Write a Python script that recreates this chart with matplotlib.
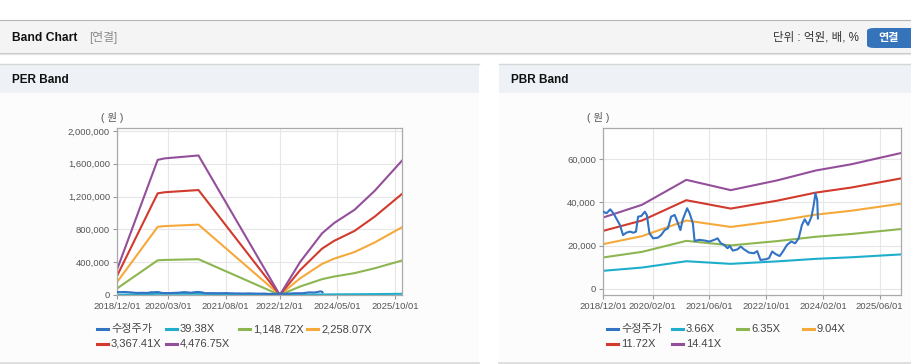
import numpy as np
import pandas as pd
import matplotlib
matplotlib.use("Agg")
import matplotlib.pyplot as plt
from matplotlib.patches import Rectangle, FancyBboxPatch
from matplotlib.lines import Line2D
from matplotlib.ticker import FuncFormatter

plt.rcParams['font.family'] = ['Liberation Sans', 'Noto Sans CJK KR']

W, H = 912, 364

# adjusted price (won)
price_dates = ['2018-12-01', '2019-01-01', '2019-02-01', '2019-02-28', '2019-03-25', '2019-04-25',
               '2019-05-22', '2019-06-19', '2019-07-19', '2019-08-19', '2019-09-10', '2019-09-28',
               '2019-10-25', '2019-11-25', '2019-12-12', '2020-01-04', '2020-02-04', '2020-03-16',
               '2020-04-13', '2020-05-13', '2020-06-10', '2020-07-07', '2020-08-07', '2020-08-25',
               '2020-09-25', '2020-10-16', '2020-11-22', '2020-12-13', '2021-01-10', '2021-01-25',
               '2021-03-07', '2021-04-19', '2021-06-01', '2021-07-13', '2021-08-10', '2021-09-07',
               '2021-10-07', '2021-11-04', '2021-11-22', '2021-12-19', '2022-01-28', '2022-02-25',
               '2022-03-25', '2022-05-07', '2022-06-19', '2022-07-16', '2022-08-13', '2022-09-25',
               '2022-10-25', '2022-11-22', '2022-12-22', '2023-01-25', '2023-02-22', '2023-03-28',
               '2023-05-04', '2023-06-07', '2023-07-07', '2023-08-04', '2023-08-28', '2023-09-25',
               '2023-10-25', '2023-11-13', '2023-11-28', '2023-12-13', '2023-12-19']
price = [35700, 35000, 36800, 35000, 32600, 29600, 24900, 26000, 26500, 26000, 26500, 33400,
         33700, 35700, 34200, 25700, 23400, 23700, 24900, 27200, 28000, 33400, 34200, 31800,
         27200, 32200, 37300, 35000, 30400, 22200, 22700, 22400, 21900, 22700, 23400, 21100,
         20300, 18800, 19900, 17700, 18300, 19600, 18300, 16800, 16500, 17500, 13400, 13700,
         14200, 17300, 16100, 15200, 17300, 20300, 21900, 21100, 23400, 29600, 32200, 29600,
         33400, 38800, 44200, 41100, 32600]

# PER band base (EPS)
eps_dates = ['2018-12-01', '2019-12-01', '2020-02-01', '2020-12-01', '2021-12-01', '2022-12-01',
             '2023-06-01', '2023-12-15', '2024-04-01', '2024-10-01', '2025-04-01', '2025-12-01']
eps = [69, 368, 372, 380, 190, 0, 90, 168, 196, 232, 284, 366]
per_mult = [39.38, 1148.72, 2258.07, 3367.41, 4476.75]
per_labels = ['수정주가', '39.38X', '1,148.72X', '2,258.07X', '3,367.41X', '4,476.75X']

# PBR band base (BPS)
bps_dates = ['2018-12-01', '2019-11-01', '2020-11-15', '2021-12-01', '2023-01-01',
             '2023-12-01', '2024-10-01', '2025-12-01']
bps = [2290, 2700, 3500, 3170, 3480, 3800, 4000, 4360]
pbr_mult = [3.66, 6.35, 9.04, 11.72, 14.41]
pbr_labels = ['수정주가', '3.66X', '6.35X', '9.04X', '11.72X', '14.41X']

per_xticks = ['2018/12/01', '2020/03/01', '2021/08/01', '2022/12/01', '2024/05/01', '2025/10/01']
pbr_xticks = ['2018/12/01', '2020/02/01', '2021/06/01', '2022/10/01', '2024/02/01', '2025/06/01']
per_yticks = [0, 400000, 800000, 1200000, 1600000, 2000000]
pbr_yticks = [0, 20000, 40000, 60000]

colors = ['#3373c4', '#1eaecb', '#8db651', '#f6a93b', '#d13a2c', '#944f9b']

fig = plt.figure(figsize=(W / 100, H / 100), dpi=100)
fig.patch.set_facecolor('white')


def rect(x0, y0, x1, y1, color):
    fig.patches.append(Rectangle((x0 / W, 1 - y1 / H), (x1 - x0) / W, (y1 - y0) / H,
                                 transform=fig.transFigure, color=color, lw=0, zorder=-2))


def hline(x0, x1, y, color, lw=0.8):
    fig.add_artist(Line2D([x0 / W, x1 / W], [1 - y / H, 1 - y / H], color=color, lw=lw,
                          transform=fig.transFigure, zorder=-1))


def ftext(x, y, s, **kw):
    fig.text(x / W, 1 - y / H, s, va='center', **kw)


# header bar
rect(0, 20, W, 52, '#f4f4f4')
hline(0, W, 20, '#b5b5b5')
hline(0, W, 52.5, '#c4c4c4', 1.0)
hline(0, W, 54, '#e6e6e6', 1.0)
ftext(12, 38, 'Band Chart', fontsize=8.7, fontweight='bold', color='#111')
ftext(89, 38, '[연결]', fontsize=8.5, color='#8a8a8a')
ftext(859, 38, '단위 : 억원, 배, %', fontsize=8.3, color='#333', ha='right')
fig.patches.append(FancyBboxPatch((867 / W, 1 - 48 / H), 50 / W, 20 / H,
                                  boxstyle='round,pad=0,rounding_size=0.008',
                                  transform=fig.transFigure, color='#3574bb', lw=0, zorder=-1))
ftext(889, 38.5, '연결', fontsize=8, fontweight='bold', color='white', ha='center')

# panels
for x0, x1, title in [(0, 479, 'PER Band'), (499, W, 'PBR Band')]:
    rect(x0, 64, x1, 93, '#eef2f7')
    rect(x0, 93, x1, 362, '#fcfcfd')
    hline(x0, x1, 64, '#d6d6d6', 1.0)
    hline(x0, x1, 362.5, '#d9d9d9', 1.2)
    ftext(x0 + 12, 80, title, fontsize=8.5, fontweight='bold', color='#111')


def band_chart(box, base_dates, base, mults, labels, xticks, yticks, ylim, legend_x):
    l, t, r, b = box
    ax = fig.add_axes([l / W, 1 - b / H, (r - l) / W, (b - t) / H])
    ax.set_zorder(3)
    ax.set_facecolor('white')
    bd = pd.to_datetime(base_dates)
    base = np.array(base, dtype=float)
    for i, m in enumerate(mults):
        ax.plot(bd, base * m, color=colors[i + 1], lw=1.5, zorder=2)
    ax.plot(pd.to_datetime(price_dates), price, color=colors[0], lw=1.5, zorder=3)
    ax.set_xlim(pd.Timestamp('2018-12-01'), pd.Timestamp('2025-12-01'))
    ax.set_ylim(*ylim)
    ax.set_xticks(pd.to_datetime(xticks, format='%Y/%m/%d'))
    ax.set_xticklabels(xticks)
    ax.set_yticks(yticks)
    ax.yaxis.set_major_formatter(FuncFormatter(lambda v, p: f'{int(v):,}'))
    ax.grid(True, color='#e6e6e6', lw=0.8)
    ax.set_axisbelow(True)
    for s in ax.spines.values():
        s.set_color('#aaaaaa')
        s.set_linewidth(0.9)
    ax.tick_params(labelsize=6.8, labelcolor='#555555', color='#999999', length=3, width=0.8, pad=2)
    ftext(l - 5, 118, '( 원 )', fontsize=7.5, color='#555555', ha='center')
    # legend
    for k, lab in enumerate(labels):
        row, col = divmod(k, 4)
        y = 329 + row * 15
        x = legend_x[col]
        fig.add_artist(Line2D([x / W, (x + 11) / W], [1 - y / H] * 2, color=colors[k], lw=2.2,
                              transform=fig.transFigure))
        ftext(x + 14, y, lab, fontsize=8, color='#444444')
    return ax


band_chart((117, 128, 402, 295), eps_dates, eps, per_mult, per_labels,
           per_xticks, per_yticks, (0, 2036000), [97, 166, 239, 307])
band_chart((603, 128, 901, 295), bps_dates, bps, pbr_mult, pbr_labels,
           pbr_xticks, pbr_yticks, (-2800, 74400), [607, 672, 737, 803])

fig.savefig('out.png', dpi=100)
